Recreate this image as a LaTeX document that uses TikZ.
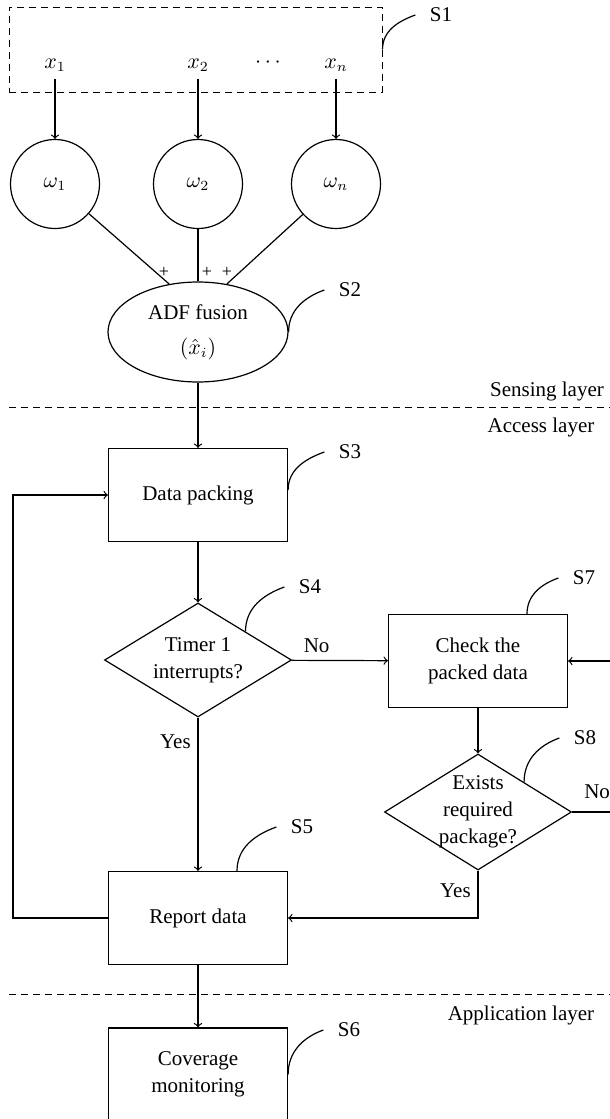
\documentclass[tikz,border=0pt]{standalone}
\usepackage{fontspec}
\setmainfont{Liberation Serif}
\usetikzlibrary{shapes.geometric}
\begin{document}
\begin{tikzpicture}[x = 0.5pt, y = -0.5pt, line width = 0.6pt,
  font = \fontsize{10.5}{13.5}\selectfont,
  box/.style = {draw, rectangle, minimum width = 89.5pt, minimum height = 46.5pt, inner sep = 0pt, align = center},
  weight/.style = {draw, circle, minimum size = 44.5pt, inner sep = 0pt},
  fusion/.style = {draw, ellipse, minimum width = 90pt, minimum height = 50pt, inner sep = 0pt, align = center},
  decision/.style = {draw, diamond, aspect = 1.6, inner sep = -4pt, minimum width = 93.5pt, align = center},
  steplabel/.style = {inner xsep = 7pt, inner ysep = 0pt},
  plussign/.style = {font = \fontsize{9}{10}\selectfont, inner sep = 0pt},
  layerline/.style = {dash pattern = on 3.5pt off 2.5pt, line width = 0.5pt},
  leader/.style = {out = 90, in = 200}]
\useasboundingbox (0,0) rectangle (610,1119);
\node [draw, layerline, minimum width = 186.5pt, minimum height = 42.5pt, at = {(195.5,49.5)}] (inputs) {};
\node [at = {(55,65)}] (x1) {$x_1$};
\node [at = {(198,65)}] (x2) {$x_2$};
\node [at = {(268,63)}] (dots) {$\cdots$};
\node [at = {(336,65)}] (xn) {$x_n$};
\node [weight, at = {(55,184)}] (w1) {$\omega_1$};
\node [weight, at = {(198,184)}] (w2) {$\omega_2$};
\node [weight, at = {(336,184)}] (wn) {$\omega_n$};
\node [fusion, at = {(198,332)}] (fus) {ADF fusion\\[4pt]$(\hat{x}_i)$};
\node [plussign, at = {(164,272)}] (plus1) {+};
\node [plussign, at = {(207,272)}] (plus2) {+};
\node [plussign, at = {(227,272)}] (plusn) {+};
\node [box, at = {(198,495)}] (pack) {Data packing};
\node [decision, minimum height = 57pt, at = {(198,660)}] (timer) {Timer 1\\interrupts?};
\node [box, at = {(478,661)}] (check) {Check the\\packed data};
\node [decision, minimum height = 58pt, at = {(478,812)}] (exists) {Exists\\required\\package?};
\node [box, at = {(198,918)}] (report) {Report data};
\node [box, at = {(198,1074.5)}] (coverage) {Coverage\\monitoring};
\node [steplabel, at = {(441,15)}] (s1) {S1};
\node [steplabel, at = {(350,290)}] (s2) {S2};
\node [steplabel, at = {(350,452)}] (s3) {S3};
\node [steplabel, at = {(310,587)}] (s4) {S4};
\node [steplabel, at = {(302,827)}] (s5) {S5};
\node [steplabel, at = {(349,1030)}] (s6) {S6};
\node [steplabel, at = {(584,578)}] (s7) {S7};
\node [steplabel, at = {(585,738)}] (s8) {S8};
\coordinate (sensingL) at (9,407);
\coordinate (sensingR) at (615,407);
\coordinate (appL) at (9,994);
\coordinate (appR) at (615,994);
\coordinate (loopcorner) at (13,918);
\draw [layerline] (sensingL) -- (sensingR);
\draw [layerline] (appL) -- (appR);
\node [at = {(547,391)}] (sensing) {Sensing layer};
\node [at = {(541,427)}] (access) {Access layer};
\node [at = {(521,1015)}] (application) {Application layer};
\draw [->] (x1) -- (w1);
\draw [->] (x2) -- (w2);
\draw [->] (xn) -- (wn);
\draw (w1) -- (fus.121);
\draw (w2) -- (fus);
\draw (wn) -- (fus.59);
\draw [->] (fus) -- (pack);
\draw [->] (pack) -- (timer);
\draw [->] (timer) -- node [pos = 0.26, above] (no1) {No} (check);
\draw [->] (timer) -- node [pos = 0.16, left] (yes1) {Yes} (report);
\draw [->] (check) -- (exists);
\draw [->] (exists.east) -- node [pos = 0.5, above = 3pt] (no2) {No} ++(50,0) |- (check.east);
\draw [->] (exists) |- node [pos = 0.21, left] (yes2) {Yes} (report);
\draw [->] (report.west) -- (loopcorner) |- (pack.west);
\draw [->] (report) -- (coverage);
\draw (inputs.east) to [leader] (s1.west);
\draw (fus.east) to [leader] (s2.west);
\draw ([yshift = 2.5pt] pack.east) to [leader] (s3.west);
\draw (timer.31) to [leader] (s4.west);
\draw ([xshift = 19.5pt] report.north) to [leader] (s5.west);
\draw (coverage.east) to [leader] (s6.west);
\draw ([xshift = 24.5pt] check.north) to [leader] (s7.west);
\draw (exists.33) to [leader] (s8.west);
\end{tikzpicture}
\end{document}
